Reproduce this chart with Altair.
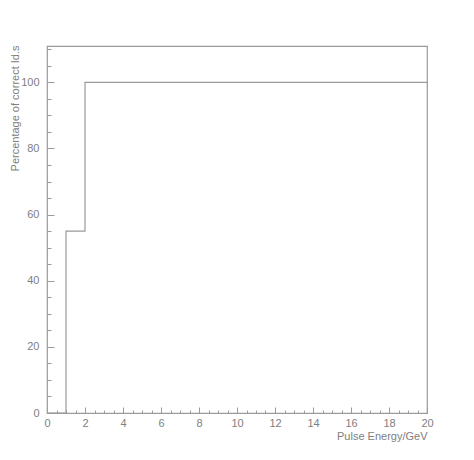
import altair as alt
import pandas as pd

# data
energy = [0, 1, 2, 20]
percent = [0, 55, 100, 100]

x_major = [0, 2, 4, 6, 8, 10, 12, 14, 16, 18, 20]
x_minor = [i * 0.5 for i in range(41)]
y_major = [0, 20, 40, 60, 80, 100]
y_minor = list(range(0, 111, 5))

df = pd.DataFrame({"energy": energy, "percent": percent})

W, H = 380, 367
GREY = "#9a9a9a"
TXT = "#808080"
FONT = "Liberation Sans"
FS = 11

xs = alt.Scale(domain=[0, 20], nice=False, zero=False)
ys = alt.Scale(domain=[0, 111], nice=False)

base = alt.Chart(df)

line = base.mark_line(interpolate="step-after", color=GREY, strokeWidth=1.2).encode(
    x=alt.X("energy:Q", scale=xs, axis=alt.Axis(
        orient="bottom", values=x_major, ticks=False, domain=False, grid=False,
        labelPadding=4, labelFontSize=FS, labelColor=TXT, labelFont=FONT,
        labelFlush=False,
        title="Pulse Energy/GeV", titleFontSize=FS, titleFontWeight="normal",
        titleColor=TXT, titleFont=FONT, titleAlign="right", titleAnchor="end",
        titleX=W, titleY=23, titleBaseline="middle")),
    y=alt.Y("percent:Q", scale=ys, axis=alt.Axis(
        orient="left", values=y_major, ticks=False, domain=False, grid=False,
        labelPadding=8, labelFontSize=FS, labelColor=TXT, labelFont=FONT,
        labelFlush=False,
        title="Percentage of correct Id.s", titleFontSize=FS,
        titleFontWeight="normal", titleColor=TXT, titleFont=FONT,
        titleAngle=270, titleAlign="right", titleAnchor="end",
        titleX=-32, titleY=-1, titleBaseline="middle")),
)


def tick_layer(xvals, yvals, size):
    return base.mark_point(opacity=0).encode(
        x=alt.X("energy:Q", scale=xs, axis=alt.Axis(
            orient="top", offset=-H, values=xvals, labels=False, domain=False,
            grid=False, ticks=True, tickSize=size, tickColor=GREY, title=None)),
        y=alt.Y("percent:Q", scale=ys, axis=alt.Axis(
            orient="right", offset=-W, values=yvals, labels=False, domain=False,
            grid=False, ticks=True, tickSize=size + 1, tickColor=GREY, title=None)),
    )


major = tick_layer(x_major, y_major, 6)
minor = tick_layer(x_minor, y_minor, 3)

chart = alt.layer(line, major, minor).resolve_axis(
    x="independent", y="independent"
).properties(
    width=W, height=H,
    autosize=alt.AutoSizeParams(type="none"),
    padding={"left": 39, "top": 38, "right": 30, "bottom": 40},
).configure_view(stroke=GREY, strokeWidth=1.2)

chart.save("out.html", embed_options={"renderer": "svg", "actions": False})
